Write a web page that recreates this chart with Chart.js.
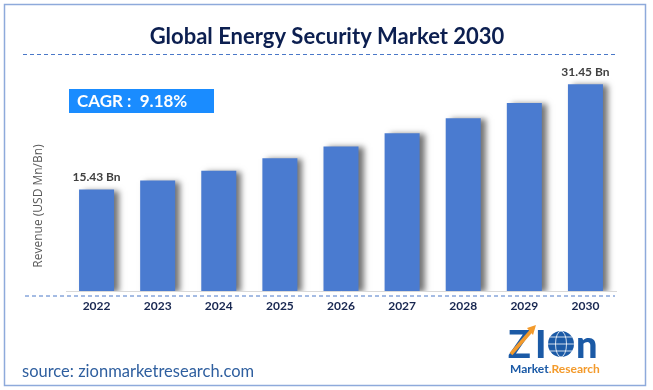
<!DOCTYPE html>
<html>
<head>
<meta charset="utf-8">
<script src="https://cdn.jsdelivr.net/npm/chart.js@4"></script>
<style>
  body { margin: 0; background: #fff; }
  #wrap { width: 653px; height: 390px; }
</style>
</head>
<body>
<div id="wrap"><canvas id="energy-chart" width="653" height="390"></canvas></div>
<script>
let years = ["2022", "2023", "2024", "2025", "2026", "2027", "2028", "2029", "2030"];
let revenue = [15.43, 16.8, 18.3, 20.2, 22.0, 24.0, 26.3, 28.6, 31.45];
let valueLabels = ["15.43 Bn", "", "", "", "", "", "", "", "31.45 Bn"];
let chartTitle = "Global Energy Security Market 2030";
let cagrText = "CAGR :  9.18%";
let yTitle = "Revenue (USD Mn/Bn)";
let sourceText = "source: zionmarketresearch.com";

let ctx = document.getElementById("energy-chart").getContext("2d");

function dashedLine(c, x1, x2, y) {
  c.save();
  c.strokeStyle = "#4a78c8";
  c.lineWidth = 1;
  c.setLineDash([4, 3]);
  c.beginPath();
  c.moveTo(x1, y);
  c.lineTo(x2, y);
  c.stroke();
  c.restore();
}

function drawLogo(c) {
  c.save();
  c.textBaseline = "alphabetic";
  c.font = "900 38px Lato";
  c.fillStyle = "#1b5aa6";
  c.fillText("Z", 508, 358);
  c.fillText("I", 535, 358);
  // orange arrow through the Z
  c.strokeStyle = "#f39a2b";
  c.lineWidth = 3.5;
  c.beginPath();
  c.moveTo(511, 354);
  c.lineTo(532, 330);
  c.stroke();
  c.fillStyle = "#f39a2b";
  c.beginPath();
  c.moveTo(536, 325);
  c.lineTo(527, 328);
  c.lineTo(533, 335);
  c.fill();
  // globe
  c.fillStyle = "#1b5aa6";
  c.beginPath();
  c.arc(561, 344, 13, 0, Math.PI * 2);
  c.fill();
  c.strokeStyle = "#ffffff";
  c.lineWidth = 0.8;
  c.beginPath();
  c.ellipse(561, 344, 5.5, 13, 0, 0, Math.PI * 2);
  c.moveTo(548, 344);
  c.lineTo(574, 344);
  c.moveTo(550, 337);
  c.lineTo(572, 337);
  c.moveTo(550, 351);
  c.lineTo(572, 351);
  c.stroke();
  c.fillStyle = "#1b5aa6";
  c.font = "900 38px Lato";
  c.fillText("n", 576, 358);
  c.font = "bold 12px Lato";
  c.fillText("Market", 510, 373);
  let w = c.measureText("Market").width;
  c.fillStyle = "#f39a2b";
  c.fillText(".Research", 510 + w, 373);
  c.restore();
}

let decorPlugin = {
  id: "decor",
  beforeDraw: (chart) => {
    let c = chart.ctx;
    c.save();
    c.fillStyle = "#ffffff";
    c.fillRect(0, 0, chart.width, chart.height);
    c.strokeStyle = "#8eaadb";
    c.lineWidth = 1.5;
    c.strokeRect(4.5, 4.5, 641, 381);

    c.fillStyle = "#0c1f50";
    c.font = "bold 22px Lato";
    c.textAlign = "center";
    c.textBaseline = "middle";
    c.fillText(chartTitle, 327, 37);

    dashedLine(c, 23, 616, 54.5);
    dashedLine(c, 25, 615, 296);

    c.fillStyle = "#1a8cff";
    c.fillRect(69, 89, 145, 24);
    c.fillStyle = "#ffffff";
    c.font = "bold 17px Lato";
    c.textAlign = "left";
    c.fillText(cagrText, 77, 102);

    c.save();
    c.translate(39, 206);
    c.rotate(-Math.PI / 2);
    c.textAlign = "center";
    c.fillStyle = "#595959";
    c.font = "12px 'Open Sans'";
    c.fillText(yTitle, 0, 0);
    c.restore();

    c.fillStyle = "#2f5f9f";
    c.font = "16.5px Lato";
    c.textAlign = "left";
    c.fillText(sourceText, 22, 372);

    drawLogo(c);
    c.restore();
  },
  beforeDatasetsDraw: (chart) => {
    let c = chart.ctx;
    c.save();
    c.shadowColor = "rgba(0, 0, 0, 0.55)";
    c.shadowOffsetX = 5;
    c.shadowOffsetY = 1;
    c.shadowBlur = 6;
  },
  afterDatasetsDraw: (chart) => {
    let c = chart.ctx;
    c.restore();
    c.save();
    c.fillStyle = "#404040";
    c.font = "bold 12px Lato";
    c.textAlign = "center";
    c.textBaseline = "middle";
    chart.getDatasetMeta(0).data.forEach((bar, i) => {
      if (valueLabels[i]) {
        c.fillText(valueLabels[i], bar.x, bar.y - 12);
      }
    });
    c.restore();
  },
};

let barChart = new Chart(ctx, {
  type: "bar",
  data: {
    labels: years,
    datasets: [
      {
        data: revenue,
        backgroundColor: "#4a7bd0",
        barPercentage: 0.573,
        categoryPercentage: 1,
      },
    ],
  },
  options: {
    responsive: false,
    animation: false,
    layout: {
      padding: { left: 66, right: 37, top: 61, bottom: 69 },
    },
    plugins: {
      legend: { display: false },
      tooltip: { enabled: false },
    },
    scales: {
      y: {
        display: false,
        min: 0,
        max: 35,
      },
      x: {
        grid: { display: false, drawTicks: false },
        border: { display: true, color: "#d9d9d9", width: 1 },
        ticks: {
          color: "#172650",
          padding: 8,
          font: { family: "Lato", size: 12, weight: "bold" },
        },
        afterFit: (scale) => {
          scale.height = 30;
        },
      },
    },
  },
  plugins: [decorPlugin],
});
</script>
</body>
</html>
